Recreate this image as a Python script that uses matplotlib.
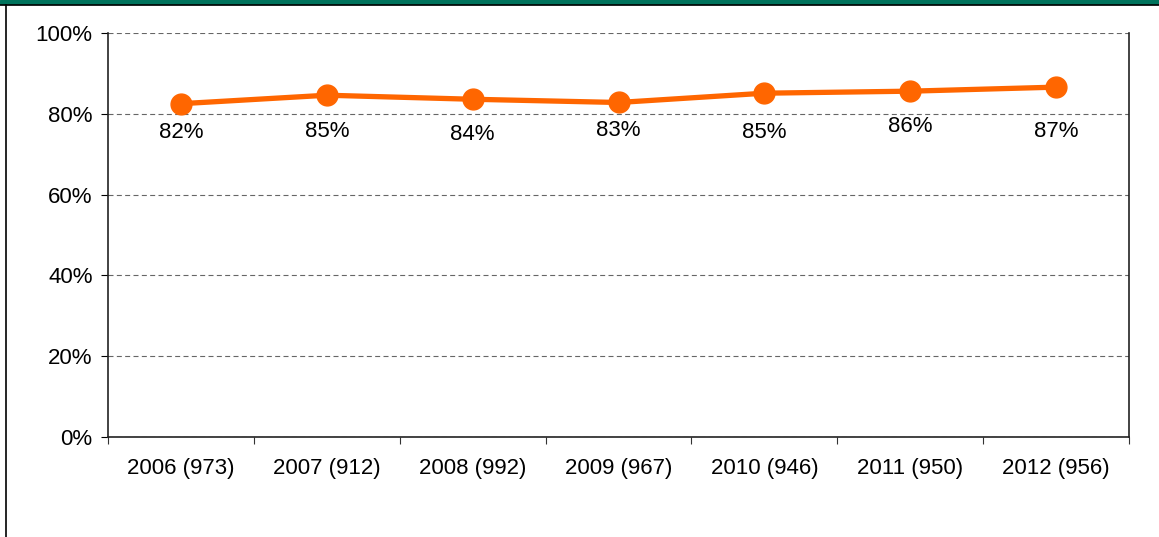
import matplotlib.pyplot as plt
import matplotlib.patches as mpatches
from matplotlib.lines import Line2D

plt.rcParams['font.family'] = ['Liberation Sans', 'DejaVu Sans']

# Data
years = ["2006 (973)", "2007 (912)", "2008 (992)", "2009 (967)",
         "2010 (946)", "2011 (950)", "2012 (956)"]
values = [82.5, 84.6, 83.6, 82.8, 85.1, 85.6, 86.6]
labels = ["82%", "85%", "84%", "83%", "85%", "86%", "87%"]
yticks = [0, 20, 40, 60, 80, 100]

orange = "#FF6600"
fs = 16

fig = plt.figure(figsize=(11.59, 5.37), dpi=100)
ax = fig.add_axes([108 / 1159, 100 / 537, 1021 / 1159, 404 / 537])

x = list(range(len(years)))
ax.plot(x, values, color=orange, lw=3.8, marker="o", markersize=15,
        solid_capstyle="round", zorder=3, clip_on=False)

# data labels below each point (per-point pixel offsets as in the original)
label_offsets = [-29, -36, -35, -28, -39, -35, -44]
for xi, v, lab, off in zip(x, values, labels, label_offsets):
    ax.annotate(lab, (xi, v), xytext=(0, off * 0.72), textcoords="offset points",
                ha="center", va="center", fontsize=fs)

ax.set_xlim(-0.5, len(years) - 0.5)
ax.set_ylim(0, 100)
ax.set_yticks(yticks)
ax.set_yticklabels([f"{t}%" for t in yticks], fontsize=fs)
ax.yaxis.grid(True, color="#666666", linestyle=(0, (4.5, 3)), lw=0.8)
ax.set_axisbelow(True)

# category ticks between groups, labels centered
ax.set_xticks([i - 0.5 for i in range(len(years) + 1)])
ax.set_xticklabels([])
ax.set_xticks(x, minor=True)
ax.set_xticklabels(years, minor=True, fontsize=fs)
ax.tick_params(axis="x", which="minor", length=0, pad=15)
ax.tick_params(axis="x", which="major", length=5, direction="out", color="#333333")
ax.tick_params(axis="y", length=5, direction="out", pad=6)

ax.spines["top"].set_visible(False)
for s in ["left", "bottom", "right"]:
    ax.spines[s].set_color("#222222")
    ax.spines[s].set_linewidth(1.2)

# frame decorations: green band at the top and thin black lines
fig.patches.append(mpatches.Rectangle((0, 1 - 4 / 537), 1, 4 / 537,
                                      transform=fig.transFigure,
                                      color="#00735C", zorder=0))
fig.lines.append(Line2D([0, 1], [1 - 4.5 / 537] * 2, transform=fig.transFigure,
                        color="black", lw=1.2))
fig.lines.append(Line2D([5.5 / 1159] * 2, [0, 1 - 4.5 / 537],
                        transform=fig.transFigure, color="black", lw=1.2))

fig.savefig("out.png", dpi=100)
